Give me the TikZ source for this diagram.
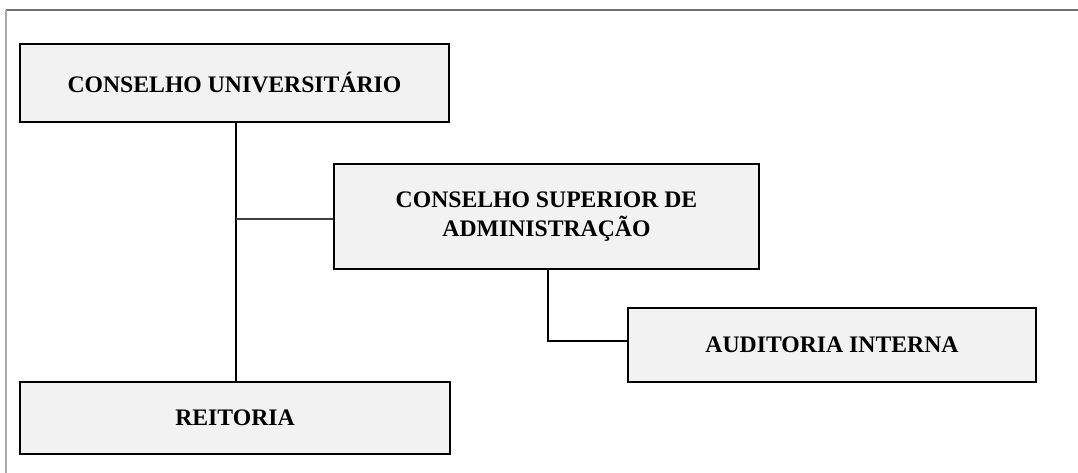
\documentclass[tikz,border=0pt]{standalone}
\usepackage{fontspec}
\setmainfont{Liberation Serif}
\definecolor{boxfill}{HTML}{F2F2F2}
\definecolor{framegray}{HTML}{6E6E6E}
\definecolor{framelight}{HTML}{AAAAAA}
\tikzset{
  orgbox/.style={draw=black, line width=2.6pt, fill=boxfill, inner sep=0pt,
    align=center, font=\fontsize{23.7}{29}\selectfont\bfseries},
  link/.style={draw=black, line width=2.6pt},
  thinlink/.style={draw=black!75, line width=2pt}
}
\begin{document}
\begin{tikzpicture}[x=1pt,y=-1pt]
\useasboundingbox (0,0) rectangle (1078,473);
\draw[framegray, line width=1.5pt] (6,10) -- (1078,10);
\draw[framelight, line width=1.5pt] (6,10) -- (6,473);
\node[orgbox, minimum width=429pt, minimum height=78pt] (cu) at (234.5,83) {CONSELHO UNIVERSITÁRIO};
\node[orgbox, minimum width=425pt, minimum height=105pt] (csa) at (546.5,216.5) {CONSELHO SUPERIOR DE\\ADMINISTRAÇÃO};
\node[orgbox, minimum width=408pt, minimum height=74pt] (ai) at (832,345) {AUDITORIA INTERNA};
\node[orgbox, minimum width=430pt, minimum height=72pt] (re) at (235,418) {REITORIA};
\coordinate (t) at (236,219);
\coordinate (j) at (548,341);
\draw[link] (t |- cu.south) -- (t |- re.north);
\draw[thinlink] (t) -- (t -| csa.west);
\draw[link] (j |- csa.south) -- (j) -- (j -| ai.west);
\end{tikzpicture}
\end{document}
